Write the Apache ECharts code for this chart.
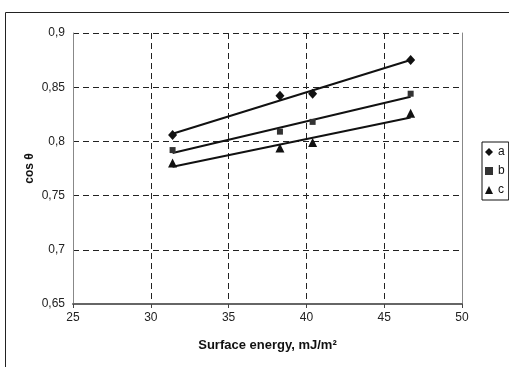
<!DOCTYPE html>
<html>
<head>
<meta charset="utf-8">
<script src="https://cdn.jsdelivr.net/npm/echarts@6/dist/echarts.min.js"></script>
<style>
  html, body { margin: 0; padding: 0; background: #fff; }
  #chart { width: 509px; height: 367px; }
</style>
</head>
<body>
<div id="chart"></div>
<script>
// surface energy (mJ/m2) and cos θ values
const energy = [31.4, 38.3, 40.4, 46.7]
const cosA = [0.806, 0.842, 0.844, 0.875]
const cosB = [0.792, 0.809, 0.818, 0.844]
const cosC = [0.780, 0.794, 0.799, 0.826]
const seriesNames = ['a', 'b', 'c']
const xTicks = [25, 30, 35, 40, 45, 50]
const yTicks = [0.65, 0.7, 0.75, 0.8, 0.85, 0.9]

const comma = (v) => String(+(+v).toFixed(2)).replace('.', ',')

// linear trend line through the points (Excel style)
const trend = (xs, ys) => {
  const n = xs.length
  const mx = xs.reduce((s, v) => s + v, 0) / n
  const my = ys.reduce((s, v) => s + v, 0) / n
  let sxy = 0, sxx = 0
  xs.forEach((x, i) => { sxy += (x - mx) * (ys[i] - my); sxx += (x - mx) * (x - mx) })
  const k = sxy / sxx
  const x0 = Math.min(...xs), x1 = Math.max(...xs)
  return [[x0, my + k * (x0 - mx)], [x1, my + k * (x1 - mx)]]
}

const pts = (ys) => energy.map((x, i) => [x, ys[i]])
const allY = [cosA, cosB, cosC]
const symbols = [
  { symbol: 'diamond', size: [9, 10] },
  { symbol: 'rect', size: 6 },
  { symbol: 'triangle', size: 9 },
]

const chart = echarts.init(document.getElementById('chart'))

const series = []
allY.forEach((ys, i) => {
  series.push({
    name: seriesNames[i] + '-trend',
    type: 'line',
    data: trend(energy, ys),
    showSymbol: false,
    silent: true,
    z: 2,
    lineStyle: { color: '#111', width: 2 },
  })
})
allY.forEach((ys, i) => {
  series.push({
    name: seriesNames[i],
    type: 'scatter',
    data: pts(ys),
    symbol: symbols[i].symbol,
    symbolSize: symbols[i].size,
    z: 3,
    itemStyle: { color: i === 1 ? '#333' : '#111', opacity: 1 },
  })
})

chart.setOption({
  backgroundColor: '#fff',
  animation: false,
  textStyle: { fontFamily: 'Liberation Sans, Arial, sans-serif' },
  graphic: [
    {
      type: 'rect',
      shape: { x: 5.5, y: 12.5, width: 600, height: 400 },
      style: { fill: 'none', stroke: '#222', lineWidth: 1 },
      z: -1,
    },
  ],
  grid: { left: 73, right: 47, top: 33, bottom: 63 },
  legend: {
    data: seriesNames,
    orient: 'vertical',
    left: 482,
    top: 142,
    borderColor: '#111',
    borderWidth: 1,
    padding: [4, 4, 4, 3],
    itemGap: 7,
    itemWidth: 8,
    itemHeight: 8,
    textStyle: { fontSize: 12, color: '#111' },
  },
  xAxis: {
    type: 'value',
    min: xTicks[0],
    max: xTicks[xTicks.length - 1],
    interval: 5,
    name: 'Surface energy, mJ/m²',
    nameLocation: 'middle',
    nameGap: 35,
    nameTextStyle: { fontSize: 13, fontWeight: 'bold', color: '#111' },
    axisLine: { onZero: false, lineStyle: { color: '#666', width: 2 } },
    axisTick: { length: 4, lineStyle: { color: '#444' } },
    axisLabel: { fontSize: 12, color: '#222', margin: 8 },
    splitLine: { lineStyle: { color: '#222', type: [6, 4], width: 1 } },
  },
  yAxis: [
    {
      type: 'value',
      min: yTicks[0],
      max: yTicks[yTicks.length - 1],
      interval: 0.05,
      name: 'cos θ',
      nameLocation: 'middle',
      nameGap: 37,
      nameMoveOverlap: false,
      nameRotate: 90,
      nameTextStyle: { fontSize: 12, fontWeight: 'bold', color: '#111' },
      axisLine: { show: true, lineStyle: { color: '#888', width: 1 } },
      axisTick: { show: false },
      axisLabel: { fontSize: 12, color: '#222', margin: 8, formatter: comma },
      splitLine: { lineStyle: { color: '#222', type: [6, 4], width: 1 } },
    },
    {
      type: 'value',
      position: 'right',
      min: yTicks[0],
      max: yTicks[yTicks.length - 1],
      interval: 0.05,
      axisLine: { show: true, lineStyle: { color: '#888', width: 1 } },
      axisTick: { show: false },
      axisLabel: { show: false },
      splitLine: { show: false },
    },
  ],
  series,
})
</script>
</body>
</html>
